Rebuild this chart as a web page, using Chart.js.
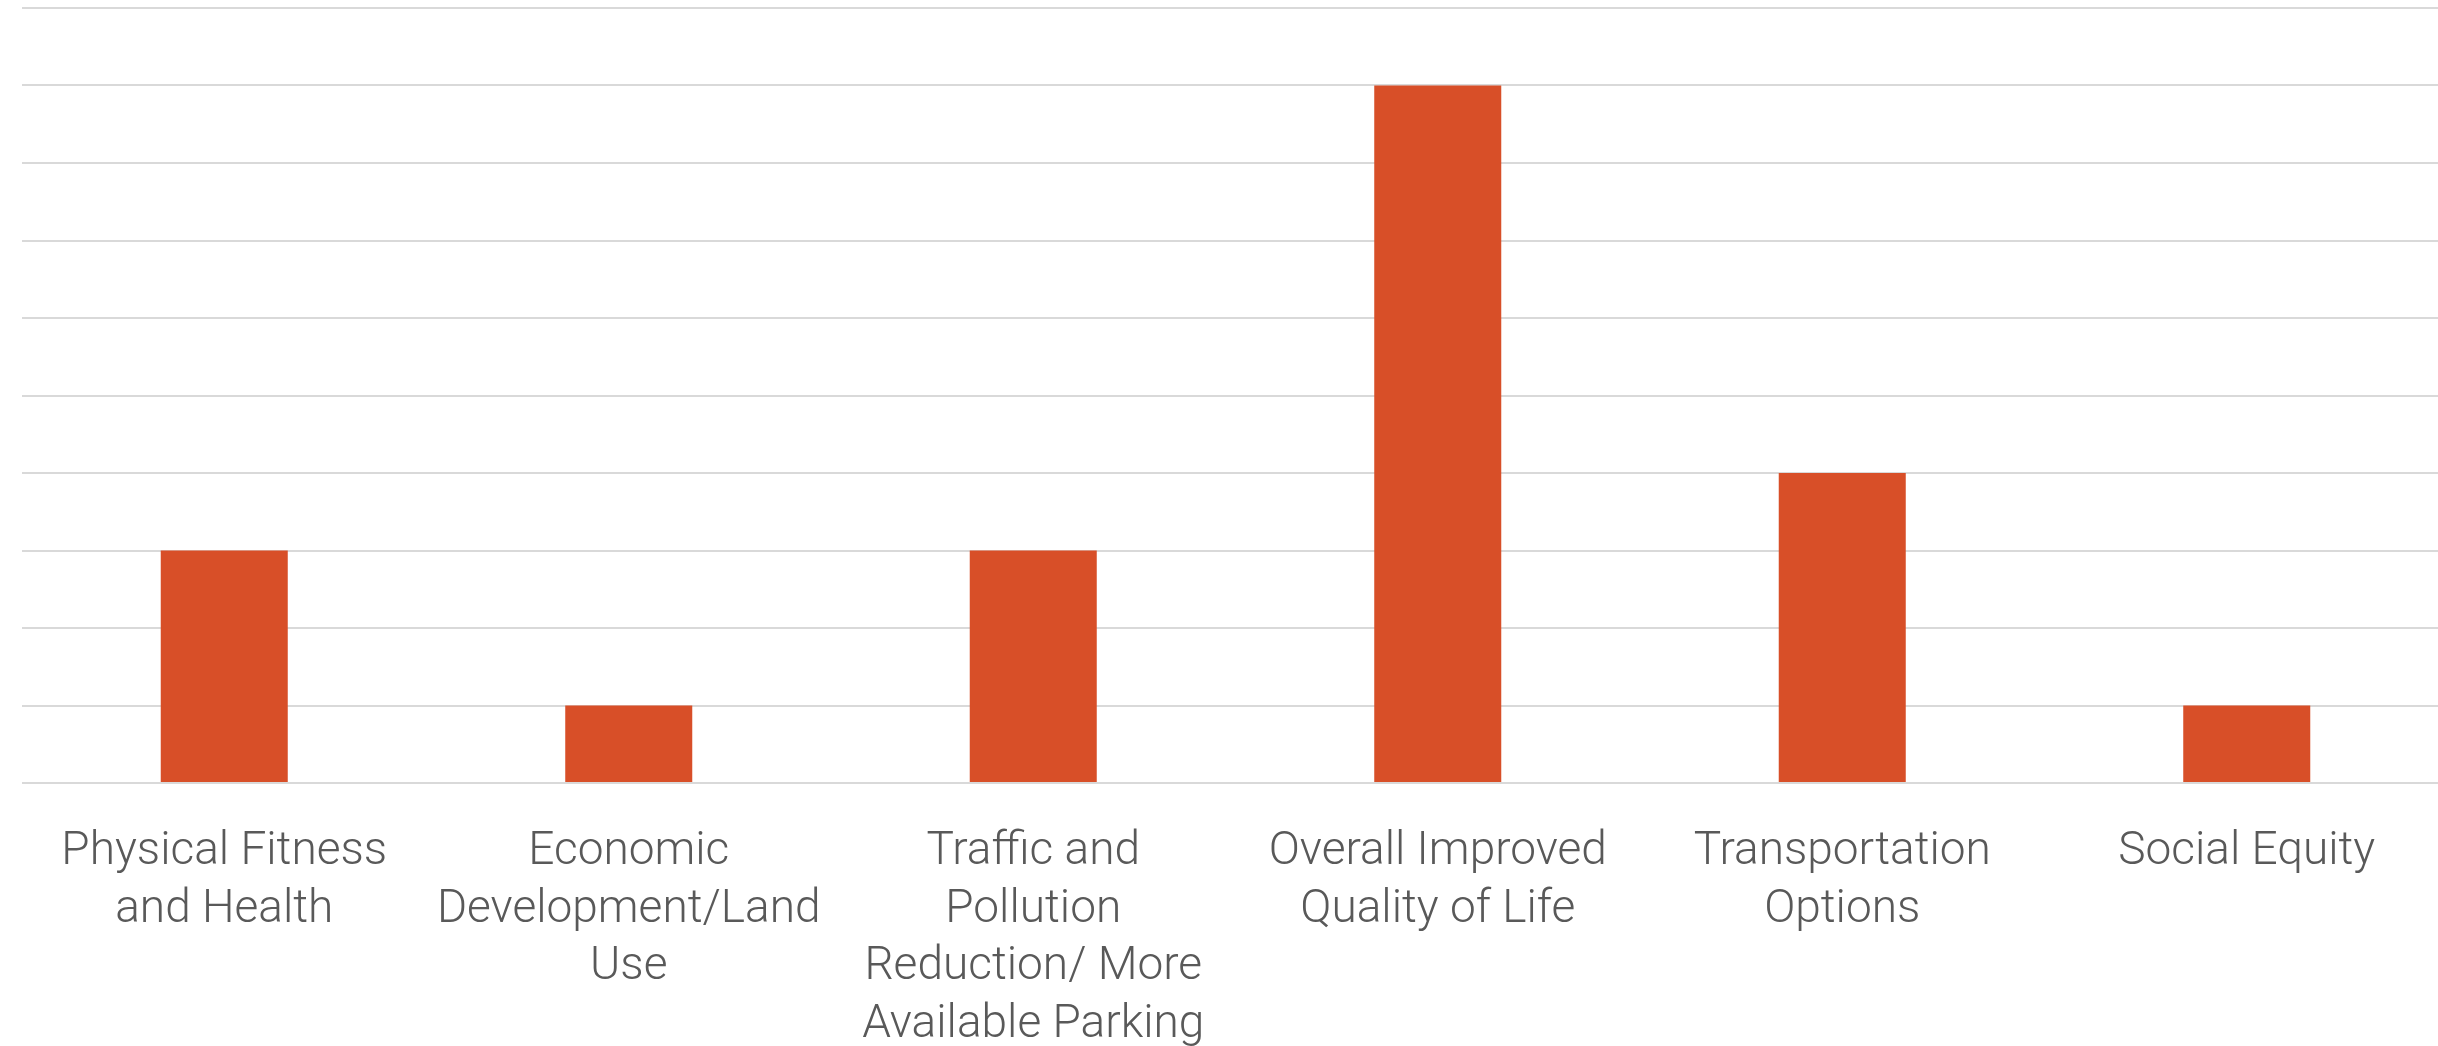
<!DOCTYPE html>
<html>
<head>
<meta charset="utf-8">
<script src="https://cdn.jsdelivr.net/npm/chart.js@4"></script>
<style>
  html, body { margin: 0; padding: 0; background: #ffffff; overflow: hidden; }
  #wrap { width: 2449px; height: 1095px; position: relative; }
</style>
</head>
<body>
<div id="wrap"><canvas id="benefitsChart"></canvas></div>
<script>
// Chart data
const categories = [
  ['Physical Fitness', 'and Health'],
  ['Economic', 'Development/Land', 'Use'],
  ['Traffic and', 'Pollution', 'Reduction/ More', 'Available Parking'],
  ['Overall Improved', 'Quality of Life'],
  ['Transportation', 'Options'],
  ['Social Equity']
];
const responses = [3, 1, 3, 9, 4, 1];
const yTicks = [0, 1, 2, 3, 4, 5, 6, 7, 8, 9, 10];

const ctx = document.getElementById('benefitsChart').getContext('2d');

new Chart(ctx, {
  type: 'bar',
  data: {
    labels: categories,
    datasets: [{
      label: 'Responses',
      data: responses,
      backgroundColor: '#D84F28',
      borderWidth: 0,
      categoryPercentage: 1,
      barPercentage: 0.314
    }]
  },
  options: {
    responsive: true,
    maintainAspectRatio: false,
    animation: false,
    layout: {
      padding: { top: 8, left: 22, right: 0, bottom: 0 }
    },
    plugins: {
      legend: { display: false },
      tooltip: { enabled: false }
    },
    scales: {
      x: {
        grid: { display: false, drawTicks: false },
        border: { display: false },
        ticks: {
          color: '#595959',
          padding: 41,
          maxRotation: 0,
          autoSkip: false,
          font: { family: 'Roboto', size: 46, weight: 300, lineHeight: 1.25 }
        }
      },
      y: {
        min: yTicks[0],
        max: yTicks[yTicks.length - 1],
        afterBuildTicks: function (scale) {
          scale.ticks = yTicks.map(v => ({ value: v }));
        },
        border: { display: false },
        grid: { color: '#d9d9d9', lineWidth: 2, drawTicks: false },
        ticks: { display: false }
      }
    }
  }
});
</script>
</body>
</html>
